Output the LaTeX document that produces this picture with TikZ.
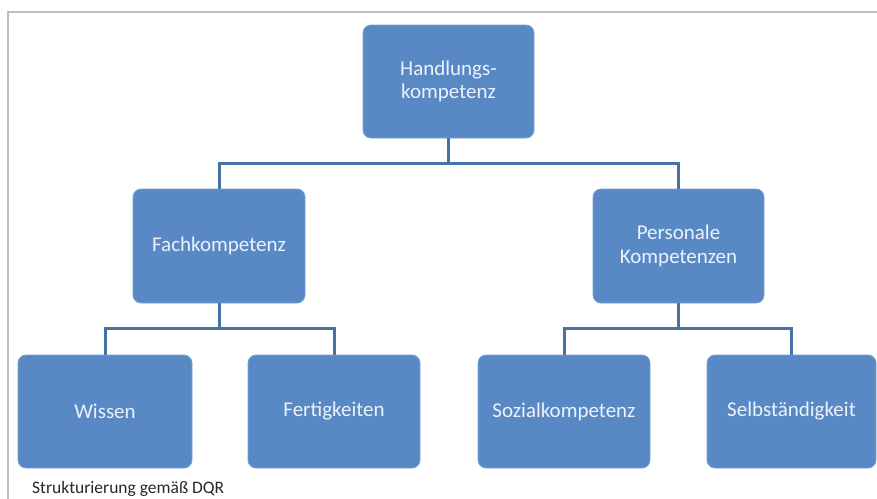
\documentclass[tikz,border=0pt]{standalone}
\usepackage{fontspec}
\setmainfont{Carlito}
\definecolor{boxblue}{RGB}{88,137,197}
\definecolor{boxedge}{RGB}{120,160,210}
\definecolor{linkblue}{RGB}{72,114,166}
\definecolor{boxtext}{RGB}{236,242,250}
\definecolor{framegray}{RGB}{190,190,190}
\definecolor{captiongray}{RGB}{40,40,40}
\tikzset{
  kbox/.style={draw=boxedge, line width=0.8pt, fill=boxblue, rounded corners=8pt,
    text=boxtext, align=center, inner sep=0pt,
    font=\fontsize{21}{23.5}\selectfont},
  link/.style={draw=linkblue, line width=3pt}
}
\begin{document}
\begin{tikzpicture}[x=1pt,y=-1pt]
\useasboundingbox (0,0) rectangle (877,498);
\clip (0,0) rectangle (877,498);
% frame
\draw[framegray, line width=1.2pt] (8,505) -- (8,12) -- (885,12);
% nodes
\node[kbox, minimum width=171pt, minimum height=113pt] (top) at (448.5,81.5) {Handlungs-\\kompetenz};
\node[kbox, minimum width=172pt, minimum height=114pt] (fach) at (219,246) {Fachkompetenz};
\node[kbox, minimum width=171pt, minimum height=114pt] (pers) at (678.5,246) {Personale\\Kompetenzen};
\node[kbox, minimum width=174pt, minimum height=113pt] (wissen) at (105,411.5) {Wissen};
\node[kbox, minimum width=172pt, minimum height=113pt] (fert) at (334,411.5) {Fertigkeiten};
\node[kbox, minimum width=172pt, minimum height=113pt] (sozial) at (564,411.5) {Sozialkompetenz};
\node[kbox, minimum width=169pt, minimum height=113pt] (selbst) at (791.5,411.5) {Selbständigkeit};
% connectors
\draw[link] (top.south) -- ++(0,26);
\draw[link] (fach.north) -- ++(0,-25) -| (pers.north);
\draw[link] (fach.south) -- ++(0,26);
\draw[link] (wissen.north) -- ++(0,-26) -| (fert.north);
\draw[link] (pers.south) -- ++(0,26);
\draw[link] (sozial.north) -- ++(0,-26) -| (selbst.north);
% caption
\node[anchor=base west, inner sep=0pt, text=captiongray, font=\fontsize{17.5}{20}\selectfont] (cap) at (32,493.5) {Strukturierung gemäß DQR};
\end{tikzpicture}
\end{document}
